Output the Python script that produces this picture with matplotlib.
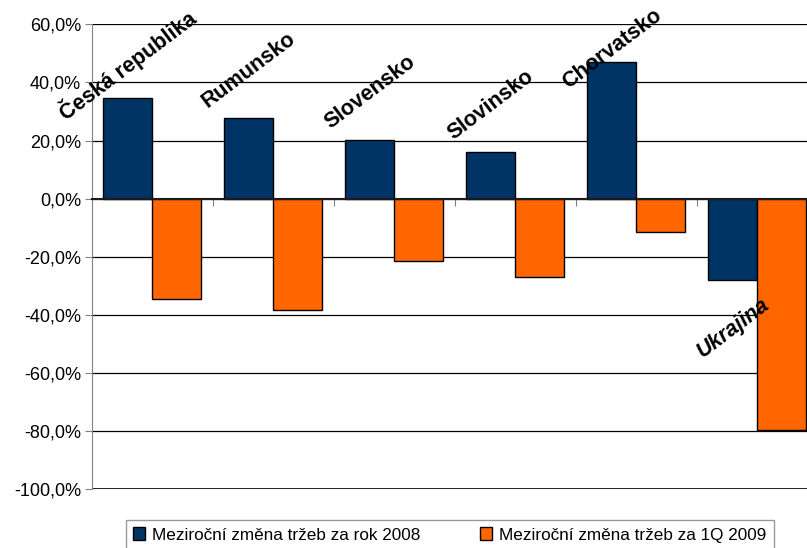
import matplotlib.pyplot as plt
from matplotlib.ticker import FuncFormatter, MultipleLocator
import numpy as np

plt.rcParams['font.family'] = ['Liberation Sans', 'DejaVu Sans']

# Data (percent)
countries = ['Česká republika', 'Rumunsko', 'Slovensko', 'Slovinsko', 'Chorvatsko', 'Ukrajina']
change_2008 = [34.7, 27.8, 20.1, 15.9, 47.1, -27.9]
change_1q2009 = [-34.4, -38.3, -21.5, -27.0, -11.5, -79.5]
series_names = ['Meziroční změna tržeb za rok 2008', 'Meziroční změna tržeb za 1Q 2009']

BLUE = '#003366'
ORANGE = '#FF6600'

fig = plt.figure(figsize=(8.07, 5.48), dpi=100)
ax = fig.add_axes([0.114, 0.1071, 0.8996, 0.8486])

x = np.arange(len(countries))
w = 0.405
b1 = ax.bar(x - w / 2, change_2008, w, color=BLUE, edgecolor='black', linewidth=1, zorder=3,
            label=series_names[0])
b2 = ax.bar(x + w / 2, change_1q2009, w, color=ORANGE, edgecolor='black', linewidth=1, zorder=3,
            label=series_names[1])

ax.set_xlim(-0.5, len(countries) - 0.5)
ax.set_ylim(-100, 60)
ax.yaxis.set_major_locator(MultipleLocator(20))
ax.yaxis.set_major_formatter(FuncFormatter(lambda v, p: f'{v:.1f}%'.replace('.', ',')))
ax.grid(axis='y', color='black', linewidth=0.9, zorder=0)
ax.tick_params(axis='y', direction='out', length=5, color='#808080', labelsize=13, pad=3)

# category boundaries as ticks on the zero line
ax.set_xticks(x[:-1] + 0.5)
ax.set_xticklabels([])
ax.spines['bottom'].set_position(('data', 0))
ax.spines['bottom'].set_color('#1a1a1a')
ax.spines['bottom'].set_linewidth(1.5)
ax.spines['bottom'].set_zorder(4)
ax.tick_params(axis='x', direction='out', length=5, color='#808080')
for s in ['top', 'right']:
    ax.spines[s].set_visible(False)
ax.spines['left'].set_color('#808080')
ax.axhline(-100, color='black', linewidth=1.2, zorder=0)
ax.axhline(60, color='black', linewidth=1.2, zorder=0)

# country labels next to the 2008 bar end, kept inside the chart top
for i, (name, v) in enumerate(zip(countries, change_2008)):
    if v >= 0:
        y = min(v + 16.5, 62.5 - 1.1 * len(name))
        style = 'normal'
    else:
        y = v - 16.5
        style = 'italic'
    ax.text(i - w / 2, y, name, rotation=37, ha='center', va='center',
            rotation_mode='anchor', fontsize=15.5, fontweight='bold', fontstyle=style, zorder=5)

fig.legend(handles=[b1, b2], loc='center', bbox_to_anchor=(450 / 807, 1 - 535 / 548),
           ncol=2, fontsize=12.3, frameon=True, fancybox=False, edgecolor='#808080',
           handlelength=0.7, handleheight=0.8, handletextpad=0.4, columnspacing=3.5,
           borderpad=0.45, borderaxespad=0)

fig.savefig('out.png', dpi=100)
